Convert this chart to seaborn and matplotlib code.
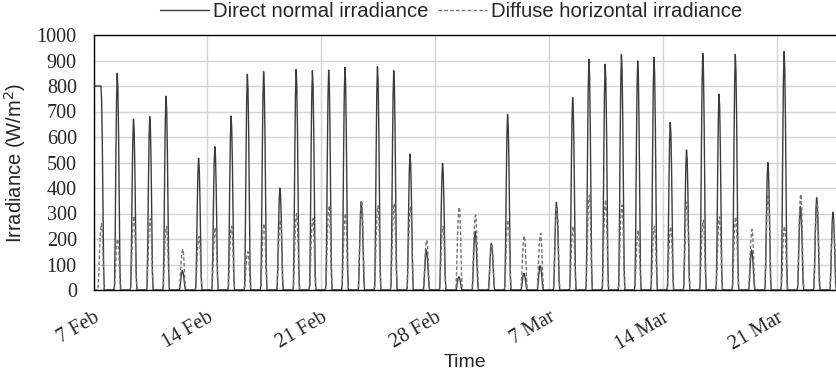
import numpy as np
import pandas as pd
import matplotlib
matplotlib.use("Agg")
import matplotlib.pyplot as plt
import matplotlib.dates as mdates
from matplotlib.ticker import MultipleLocator
import seaborn as sns

# ---------------- data ----------------
start_date = "2019-02-07"
n_days = 46
# daily peak of direct normal irradiance (W/m2), 7 Feb ... 24 Mar
dni_peaks = [800, 850, 670, 680, 760, 76, 517, 562, 682, 846, 856, 400,
             865, 860, 862, 873, 346, 876, 860, 533, 157, 497, 52, 229,
             183, 689, 65, 95, 344, 755, 905, 885, 923, 898, 912, 657,
             549, 928, 768, 924, 157, 500, 935, 327, 362, 305]
# daily peak of diffuse horizontal irradiance (W/m2)
dhi_peaks = [260, 200, 290, 280, 250, 160, 210, 245, 250, 150, 260, 275,
             300, 280, 330, 300, 350, 330, 340, 325, 196, 250, 325, 294,
             175, 275, 212, 222, 327, 250, 372, 353, 333, 235, 250, 248,
             346, 274, 287, 287, 238, 376, 250, 376, 341, 274]
# typical hourly profile of one day (fraction of the daily peak), hours 0..23
dni_profile = [0, 0, 0, 0, 0, 0, 0, 0.02, 0.25, 0.6, 0.88, 1.0,
               0.93, 0.72, 0.4, 0.1, 0, 0, 0, 0, 0, 0, 0, 0]
dhi_profile = [0, 0, 0, 0, 0, 0, 0, 0.05, 0.3, 0.6, 0.85, 0.97,
               1.0, 0.85, 0.55, 0.2, 0.02, 0, 0, 0, 0, 0, 0, 0]
# the record opens on 7 Feb with a flat DNI reading
first_morning_dni = [800, 800, 800, 800, 800, 800, 800, 800, 800, 800, 800, 800]

legend_labels = ["Direct normal irradiance", "Diffuse horizontal irradiance"]

# ---------------- build hourly table ----------------
times = pd.date_range(start_date, periods=n_days * 24, freq="h")
dni_vals, dhi_vals = [], []
for d in range(n_days):
    for h in range(24):
        dni_vals.append(dni_peaks[d] * dni_profile[h])
        dhi_vals.append(dhi_peaks[d] * dhi_profile[h])
for h, v in enumerate(first_morning_dni):
    dni_vals[h] = v
df = pd.DataFrame({"time": times, "dni": dni_vals, "dhi": dhi_vals})

# ---------------- plot ----------------
sns.set_theme(style="white")
plt.rcParams["font.family"] = ["Liberation Sans", "DejaVu Sans"]

W, H = 836, 374
fig = plt.figure(figsize=(W / 100, H / 100), dpi=100)
ax = fig.add_axes([93.5 / W, (H - 290) / H, (W - 93.5) / W, 255 / H])

sns.lineplot(data=df, x="time", y="dni", ax=ax, color="#3c3c3c", lw=1.0,
             label=legend_labels[0])
sns.lineplot(data=df, x="time", y="dhi", ax=ax, color="#747474", lw=1.0,
             label=legend_labels[1])
ax.lines[1].set_dashes((2.6, 1.6))

x0 = pd.Timestamp(start_date)
ax.set_xlim(x0, x0 + pd.Timedelta(days=45.65))
ax.set_ylim(0, 1000)

ax.xaxis.set_major_locator(mdates.DayLocator(bymonthday=[7, 14, 21, 28]))
ax.xaxis.set_major_formatter(mdates.DateFormatter("%-d %b"))
ax.xaxis.set_minor_locator(mdates.DayLocator())
ax.yaxis.set_major_locator(MultipleLocator(100))
ax.yaxis.set_minor_locator(MultipleLocator(20))

ax.grid(True, which="major", color="#d4d4d4", lw=1.0)
ax.set_axisbelow(True)

for s in ["left", "bottom", "top"]:
    ax.spines[s].set_visible(True)
    ax.spines[s].set_color("black")
    ax.spines[s].set_linewidth(1.0)
ax.spines["right"].set_visible(False)

ax.tick_params(axis="both", which="major", direction="inout", length=8,
               width=1, color="black")
ax.tick_params(axis="both", which="minor", direction="in", length=4,
               width=0.8, color="black")
ax.tick_params(axis="x", which="both", top=False)
ax.tick_params(axis="y", which="both", right=False)

serif = ["Liberation Serif", "DejaVu Serif"]
for lab in ax.get_yticklabels():
    lab.set_fontfamily(serif)
    lab.set_fontsize(14.5)
ax.tick_params(axis="y", pad=8)
for lab in ax.get_xticklabels():
    lab.set_fontfamily(serif)
    lab.set_fontsize(14.5)
    lab.set_rotation(30)
    lab.set_ha("right")
    lab.set_rotation_mode("anchor")
ax.tick_params(axis="x", pad=9)

ax.set_xlabel("Time", fontsize=14, labelpad=0)
ax.set_ylabel("Irradiance (W/m$^2$)", fontsize=14.5, labelpad=6)

leg = ax.legend(loc="upper center", bbox_to_anchor=(451 / W, 1.0),
                bbox_transform=fig.transFigure, ncol=2, frameon=False,
                fontsize=14.6, handlelength=2.4, handletextpad=0.2,
                columnspacing=0.5, borderpad=0.1, borderaxespad=0.0)

fig.savefig("out.png", dpi=100)
